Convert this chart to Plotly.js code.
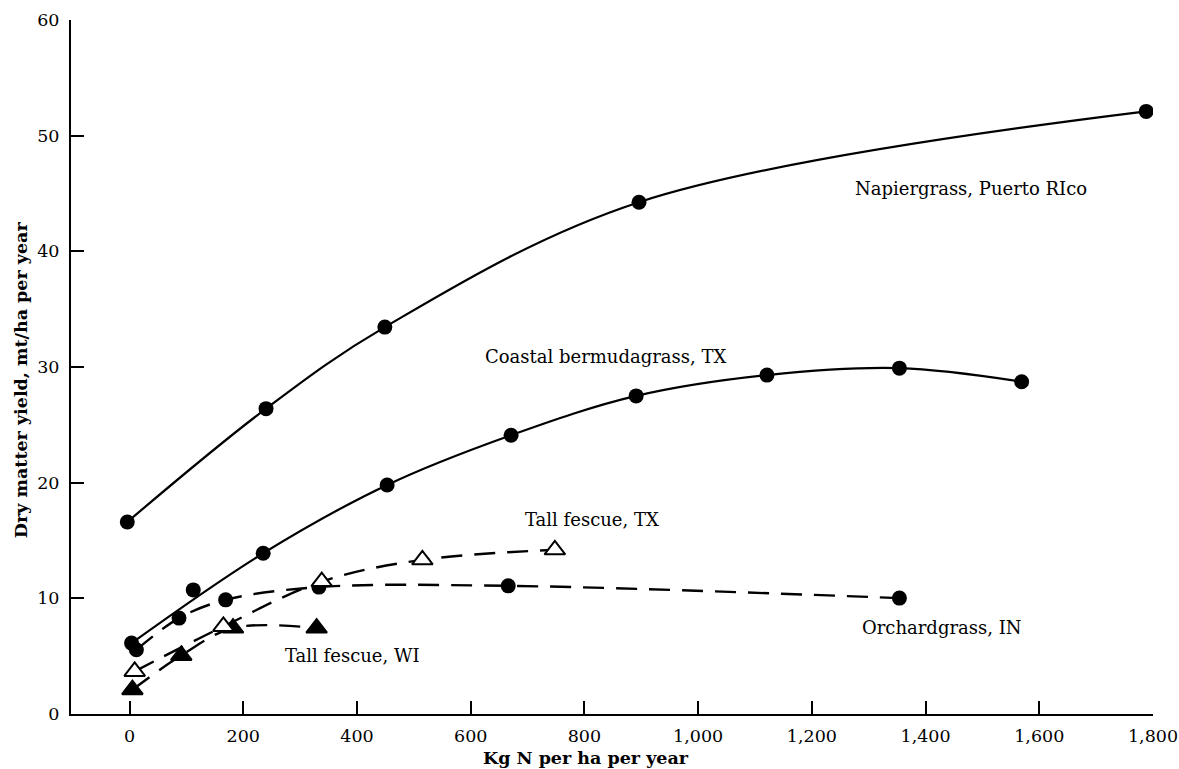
<!DOCTYPE html>
<html>
<head>
<meta charset="utf-8">
<script src="https://cdn.plot.ly/plotly-3.0.1.min.js"></script>
<style>html,body{margin:0;padding:0;background:#fff;}</style>
</head>
<body>
<div id="chart" style="width:1179px;height:769px;"></div>
<script>
// Napiergrass, Puerto Rico
const napierX = [-4, 240, 449, 896, 1788];
const napierY = [16.6, 26.4, 33.45, 44.25, 52.1];
// Coastal bermudagrass, TX
const bermudaX = [3.5, 112, 235, 453, 671, 891, 1121, 1354, 1569];
const bermudaY = [6.13, 10.73, 13.9, 19.8, 24.1, 27.5, 29.3, 29.9, 28.73];
// Orchardgrass, IN
const orchardX = [12, 87, 169, 333, 666, 1354];
const orchardY = [5.55, 8.29, 9.87, 10.97, 11.08, 10.02];
// Tall fescue, TX
const fescueTXX = [9, 165, 338, 515, 748];
const fescueTXY = [3.68, 7.57, 11.45, 13.33, 14.19];
// Tall fescue, WI
const fescueWIX = [5, 91, 182, 329];
const fescueWIY = [2.1, 5.06, 7.43, 7.43];

const xTicks = [0, 200, 400, 600, 800, 1000, 1200, 1400, 1600, 1800];
const yTicks = [0, 10, 20, 30, 40, 50, 60];

const labels = ["Napiergrass, Puerto RIco", "Coastal bermudagrass, TX", "Tall fescue, TX", "Orchardgrass, IN", "Tall fescue, WI"];
const labelX = [1272, 621, 692, 1285, 270];
const labelY = [45.4, 30.9, 16.8, 7.5, 5.1];

const serif = "DejaVu Serif, Liberation Serif, serif";
const dashStyle = "21px,12px";

// fitted-curve lines skip points that lie off the smooth trend
function lineTrace(x, y, dashed, skip) {
  const keep = (_, i) => !(skip || []).includes(i);
  return {
    type: "scatter", mode: "lines", x: x.filter(keep), y: y.filter(keep),
    line: {color: "#000", width: dashed ? 2.4 : 2.2, dash: dashed ? dashStyle : "solid", shape: "spline", smoothing: 1},
    showlegend: false, hoverinfo: "skip"
  };
}
function markerTrace(x, y, symbol, fill) {
  return {
    type: "scatter", mode: "markers", x: x, y: y,
    marker: symbol === "circle"
      ? {symbol: "circle", size: 15, color: "#000"}
      : {symbol: "triangle-up", size: 18, color: fill, line: {color: "#000", width: 2}},
    showlegend: false, hoverinfo: "x+y"
  };
}

const data = [
  lineTrace(napierX, napierY, false),
  lineTrace(bermudaX, bermudaY, false, [1]),
  lineTrace(orchardX, orchardY, true),
  lineTrace(fescueWIX, fescueWIY, true),
  lineTrace(fescueTXX, fescueTXY, true),
  markerTrace(napierX, napierY, "circle"),
  markerTrace(bermudaX, bermudaY, "circle"),
  markerTrace(orchardX, orchardY, "circle"),
  markerTrace(fescueWIX, fescueWIY, "tri", "#000"),
  markerTrace(fescueTXX, fescueTXY, "tri", "#fff")
];

const annotations = labels.map((t, i) => ({
  x: labelX[i], y: labelY[i], xref: "x", yref: "y", text: t, showarrow: false,
  xanchor: "left", yanchor: "middle", font: {family: serif, size: 18, color: "#000"}
}));
annotations.push({
  x: 0.476, y: -0.0634, xref: "paper", yref: "paper", text: "<b>Kg N per ha per year</b>",
  showarrow: false, xanchor: "center", yanchor: "middle",
  font: {family: serif, size: 17.5, color: "#000"}
});
annotations.push({
  x: -0.0462, y: 0.481, xref: "paper", yref: "paper", text: "<b>Dry matter yield, mt/ha per year</b>",
  showarrow: false, xanchor: "center", yanchor: "middle", textangle: -90,
  font: {family: serif, size: 17.5, color: "#000"}
});

const layout = {
  width: 1179, height: 769,
  margin: {l: 71, r: 26, t: 20, b: 55},
  paper_bgcolor: "#fff", plot_bgcolor: "#fff",
  font: {family: serif, color: "#000"},
  xaxis: {
    range: [-103, 1800], tickvals: xTicks, ticktext: xTicks.map(v => v.toLocaleString("en-US")),
    showline: true, linecolor: "#000", linewidth: 2, ticks: "inside", ticklen: 13, tickwidth: 2, tickcolor: "#000",
    showgrid: false, zeroline: false, tickfont: {family: serif, size: 17.5, color: "#000"}, ticklabelstandoff: 5
  },
  yaxis: {
    range: [0, 60], tickvals: yTicks,
    showline: true, linecolor: "#000", linewidth: 2, ticks: "inside", ticklen: 13, tickwidth: 2, tickcolor: "#000",
    showgrid: false, zeroline: false, tickfont: {family: serif, size: 17.5, color: "#000"}, ticklabelstandoff: 6
  },
  annotations: annotations
};

Plotly.newPlot("chart", data, layout, {displayModeBar: false, staticPlot: true});
</script>
</body>
</html>
